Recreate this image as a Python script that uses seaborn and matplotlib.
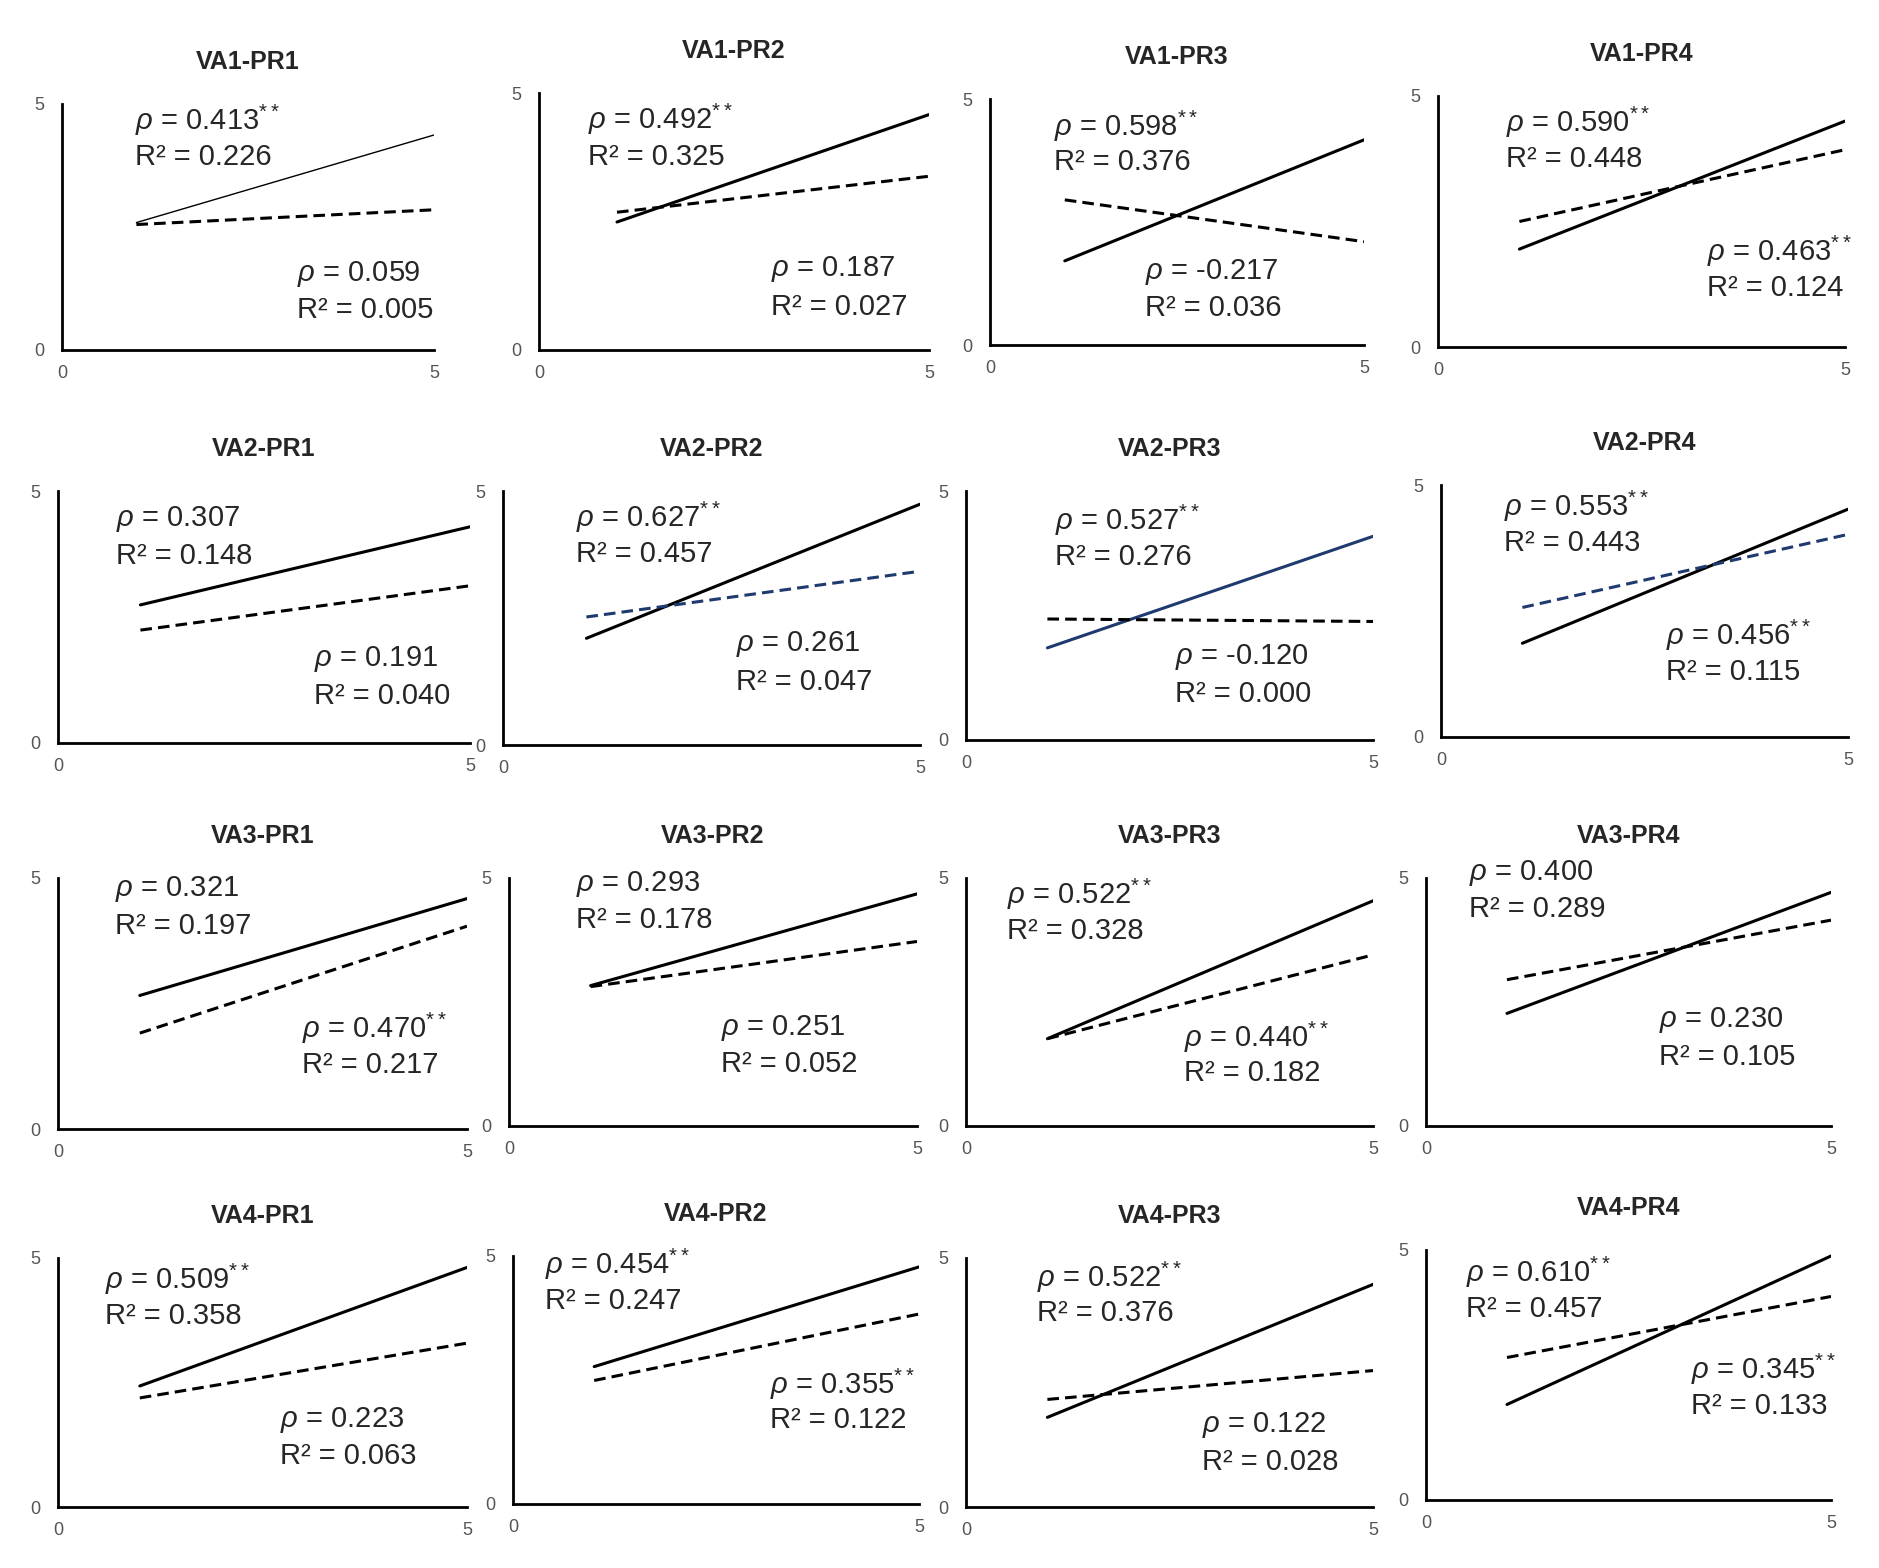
import pandas as pd
import seaborn as sns
import matplotlib.pyplot as plt

# datos de cada panel (fila a fila)
titles = ["VA1-PR1", "VA1-PR2", "VA1-PR3", "VA1-PR4",
          "VA2-PR1", "VA2-PR2", "VA2-PR3", "VA2-PR4",
          "VA3-PR1", "VA3-PR2", "VA3-PR3", "VA3-PR4",
          "VA4-PR1", "VA4-PR2", "VA4-PR3", "VA4-PR4"]

x_ends = [1, 5]

solid_y0 = [2.59, 2.49, 1.71, 1.95, 2.74, 2.10, 1.85, 1.86, 2.66, 2.83, 1.76, 2.27, 2.43, 2.77, 1.80, 1.91]
solid_y1 = [4.37, 4.58, 4.17, 4.50, 4.29, 4.74, 4.09, 4.52, 4.59, 4.68, 4.54, 4.71, 4.81, 4.78, 4.47, 4.88]
dashed_y0 = [2.55, 2.68, 2.95, 2.50, 2.24, 2.52, 2.43, 2.57, 1.91, 2.81, 1.76, 2.95, 2.19, 2.49, 2.16, 2.85]
dashed_y1 = [2.85, 3.38, 2.10, 3.93, 3.12, 3.42, 2.38, 4.02, 4.04, 3.72, 3.45, 4.15, 3.29, 3.83, 2.74, 4.07]

rho_solid = ["0.413", "0.492", "0.598", "0.590", "0.307", "0.627", "0.527", "0.553",
             "0.321", "0.293", "0.522", "0.400", "0.509", "0.454", "0.522", "0.610"]
sig_solid = [1, 1, 1, 1, 0, 1, 1, 1, 0, 0, 1, 0, 1, 1, 1, 1]
r2_solid = ["0.226", "0.325", "0.376", "0.448", "0.148", "0.457", "0.276", "0.443",
            "0.197", "0.178", "0.328", "0.289", "0.358", "0.247", "0.376", "0.457"]

rho_dashed = ["0.059", "0.187", "-0.217", "0.463", "0.191", "0.261", "-0.120", "0.456",
              "0.470", "0.251", "0.440", "0.230", "0.223", "0.355", "0.122", "0.345"]
sig_dashed = [0, 0, 0, 1, 0, 0, 0, 1, 1, 0, 1, 0, 0, 1, 0, 1]
r2_dashed = ["0.005", "0.027", "0.036", "0.124", "0.040", "0.047", "0.000", "0.115",
             "0.217", "0.052", "0.182", "0.105", "0.063", "0.122", "0.028", "0.133"]

# estilo / posiciones (pixeles: izquierda, arriba(y=5), derecha, abajo(y=0))
W, H = 1879, 1568
rects = [(62, 104, 434, 350), (539, 93, 929, 350), (990, 99, 1364, 345), (1438, 96, 1845, 347),
         (58, 491, 470, 743), (503, 491, 920, 745), (966, 491, 1373, 740), (1441, 485, 1848, 737),
         (58, 878, 467, 1129), (509, 878, 917, 1126), (966, 878, 1373, 1126), (1426, 878, 1831, 1126),
         (58, 1258, 467, 1507), (513, 1256, 919, 1504), (966, 1258, 1373, 1507), (1426, 1250, 1831, 1500)]
upper_pos = [(0.98, 4.66), (0.63, 4.49), (0.85, 4.44), (0.84, 4.48),
             (0.70, 4.45), (0.88, 4.48), (1.09, 4.40), (0.78, 4.57),
             (0.70, 4.78), (0.82, 4.88), (0.50, 4.66), (0.53, 5.10),
             (0.57, 4.57), (0.40, 4.83), (0.87, 4.62), (0.50, 4.55)]
lower_pos = [(3.16, 1.54), (2.97, 1.57), (2.07, 1.49), (3.31, 1.90),
             (3.11, 1.67), (2.79, 1.98), (2.57, 1.66), (2.76, 2.02),
             (2.98, 2.01), (2.60, 1.98), (2.68, 1.79), (2.88, 2.13),
             (2.72, 1.75), (3.17, 2.42), (2.90, 1.64), (3.27, 2.61)]
navy = "#1f3a6e"
solid_color = ["k"] * 16
dashed_color = ["k"] * 16
solid_color[6] = navy
dashed_color[5] = navy
dashed_color[7] = navy
solid_lw = [1.0] + [2.2] * 15

sns.set_style("white")
plt.rcParams["font.family"] = ["Liberation Sans", "DejaVu Sans"]
plt.rcParams["mathtext.fontset"] = "custom"
plt.rcParams["mathtext.rm"] = "Liberation Sans"
plt.rcParams["mathtext.it"] = "Liberation Sans:italic"
plt.rcParams["mathtext.bf"] = "Liberation Sans:bold"

fig = plt.figure(figsize=(W / 100, H / 100), dpi=100)


def etiqueta(ax, pos, rho, sig, r2):
    x, y = pos
    txt = r"$\rho$ = " + rho + (r"$^{**}$" if sig else "")
    ax.text(x, y, txt, fontsize=21, va="center", ha="left")
    ax.text(x, y - 0.73, "R² = " + r2, fontsize=21, va="center", ha="left")


for i in range(16):
    l, t, r, b = rects[i]
    ax = fig.add_axes([l / W, 1 - b / H, (r - l) / W, (b - t) / H])

    df = pd.DataFrame({"x": x_ends * 2,
                       "y": [solid_y0[i], solid_y1[i], dashed_y0[i], dashed_y1[i]],
                       "serie": ["solid", "solid", "dashed", "dashed"]})
    s = df[df.serie == "solid"]
    d = df[df.serie == "dashed"]
    sns.lineplot(x=s.x, y=s.y, ax=ax, color=solid_color[i], linewidth=solid_lw[i])
    sns.lineplot(x=d.x, y=d.y, ax=ax, color=dashed_color[i], linewidth=2.2,
                 linestyle=(0, (3.8, 2)))

    etiqueta(ax, upper_pos[i], rho_solid[i], sig_solid[i], r2_solid[i])
    etiqueta(ax, lower_pos[i], rho_dashed[i], sig_dashed[i], r2_dashed[i])

    ax.set_xlim(0, 5)
    ax.set_ylim(0, 5)
    ax.set_xticks([0, 5])
    ax.set_yticks([0, 5])
    ax.set_xlabel("")
    ax.set_ylabel("")
    ax.tick_params(direction="in", length=5, width=1.8, labelsize=13,
                   labelcolor="#555555")
    ax.tick_params(axis="x", pad=11)
    ax.tick_params(axis="y", pad=13)
    for sp in ["top", "right"]:
        ax.spines[sp].set_visible(False)
    for sp in ["left", "bottom"]:
        ax.spines[sp].set_linewidth(2.0)
        ax.spines[sp].set_color("k")
    ax.set_title(titles[i], fontsize=18, fontweight="bold", pad=25)
    ax.patch.set_alpha(0)

fig.savefig("out.png", dpi=100, facecolor="white")
